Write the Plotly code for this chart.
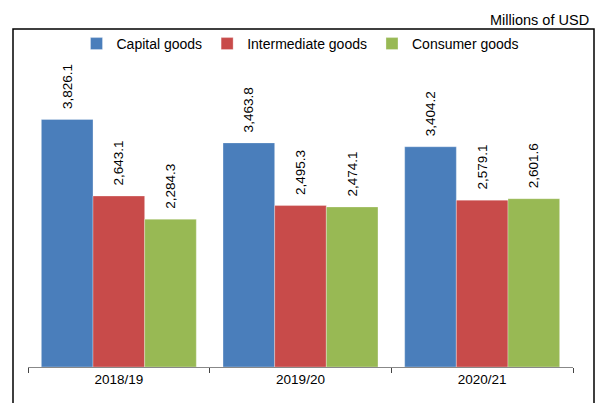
import plotly.graph_objects as go

years = ["2018/19", "2019/20", "2020/21"]
capital = [3826.1, 3463.8, 3404.2]
intermediate = [2643.1, 2495.3, 2579.1]
consumer = [2284.3, 2474.1, 2601.6]

series = [
    ("Capital goods", capital, "#4A7EBB"),
    ("Intermediate goods", intermediate, "#C84B4A"),
    ("Consumer goods", consumer, "#98B954"),
]

FONT = "Liberation Sans, Arial, sans-serif"
NB = "\u00a0\u00a0"

fig = go.Figure()
for name, vals, color in series:
    fig.add_trace(go.Bar(
        x=years, y=vals, name=name,
        marker=dict(color=color, line=dict(color="rgba(255,255,255,0.6)", width=0.5)),
        text=[NB + f"{v:,.1f}" for v in vals],
        textposition="outside", textangle=-90, constraintext="none",
        textfont=dict(family=FONT, size=13.5, color="#000"),
        cliponaxis=False,
    ))

W, H = 601, 403
l, r, t, b = 28, 28, 60, 36
pw = W - l - r
ph = H - t - b

fig.update_layout(
    width=W, height=H,
    margin=dict(l=l, r=r, t=t, b=b),
    paper_bgcolor="white", plot_bgcolor="white",
    barmode="group", bargap=0.147, bargroupgap=0,
    font=dict(family=FONT, size=13, color="#000"),
    showlegend=True,
    legend=dict(orientation="h", x=0.5, xanchor="center", y=1.0, yanchor="bottom",
                font=dict(size=14), itemwidth=30, traceorder="normal",
                bgcolor="rgba(0,0,0,0)"),
    xaxis=dict(showline=True, linecolor="#888", linewidth=1, ticks="outside",
               tickson="boundaries", ticklen=5, tickcolor="#444",
               tickfont=dict(size=13.5), showgrid=False),
    yaxis=dict(visible=False, range=[0, ph / 0.0647], showgrid=False, zeroline=False),
    annotations=[dict(text="Millions of USD", xref="paper", yref="paper",
                      x=(W - 10 - l) / pw, y=(H - b - 20) / ph, xanchor="right",
                      yanchor="middle", showarrow=False, font=dict(size=14.5))],
    shapes=[dict(type="rect", xref="paper", yref="paper",
                 x0=(13 - l) / pw, x1=(594 - l) / pw,
                 y0=-0.3, y1=(H - b - 29) / ph,
                 line=dict(color="#000", width=1.5), fillcolor="rgba(0,0,0,0)")],
)

fig.write_html("out.html", config={"displayModeBar": False},
               post_script="document.body.style.margin='0';document.body.style.overflow='hidden';")
